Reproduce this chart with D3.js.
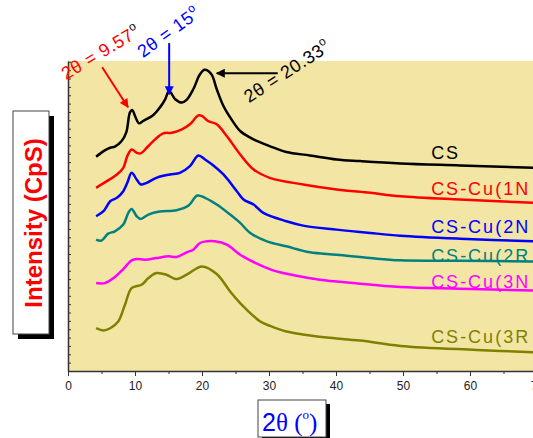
<!DOCTYPE html>
<html>
<head>
<meta charset="utf-8">
<script src="https://cdn.jsdelivr.net/npm/d3@7"></script>
<style>
  body { margin: 0; background: #fff; }
  svg { display: block; font-family: "Liberation Sans", Arial, sans-serif; }
</style>
</head>
<body>
<svg id="chart" width="533" height="438"></svg>
<script>
// XRD patterns, [2theta, intensity]
var cs = [[4.2,2564],[5.3,2632],[6.3,2672],[7.0,2684],[8.0,2752],[8.7,2856],[9.25,3096],[9.6,3124],[10.0,3052],[10.6,2964],[11.2,2992],[12.7,3060],[13.7,3152],[14.5,3252],[15.1,3352],[16.0,3252],[17.0,3212],[17.7,3244],[18.7,3372],[19.7,3552],[20.4,3604],[21.4,3552],[22.2,3372],[23.2,3172],[24.4,3012],[25.7,2872],[27.2,2792],[28.7,2736],[30.1,2692],[32.6,2620],[36.1,2580],[40.1,2532],[43.6,2512],[49.6,2484],[58.5,2460],[70,2430]];
var cu1N = [[4.2,2192],[5.8,2272],[7.3,2352],[8.25,2432],[8.85,2572],[9.5,2652],[10.25,2612],[10.85,2604],[11.75,2672],[13.0,2772],[14.2,2844],[15.5,2852],[17.0,2892],[18.2,2952],[19.45,3060],[20.0,3052],[20.9,2992],[22.2,2952],[23.7,2812],[25.7,2592],[27.7,2412],[30.1,2312],[35.1,2232],[40.1,2172],[45.1,2132],[49.6,2092],[58.5,2052],[70,2010]];
var cu2N = [[4.2,1852],[5.3,1912],[6.3,2032],[7.3,2072],[8.25,2152],[8.85,2252],[9.5,2372],[10.25,2292],[10.85,2232],[11.75,2252],[13.2,2312],[15.2,2352],[16.7,2372],[18.2,2452],[19.45,2580],[20.45,2532],[21.7,2460],[23.2,2352],[25.2,2152],[26.2,2052],[27.7,1992],[29.15,1892],[32.6,1792],[35.1,1740],[40.1,1692],[45.1,1652],[49.6,1620],[58.5,1584],[70,1550]];
var cu2R = [[4.2,1572],[5.0,1560],[6.0,1644],[7.0,1672],[8.25,1752],[9.0,1892],[9.5,1940],[10.25,1852],[10.85,1820],[12.0,1872],[13.7,1908],[16.2,1924],[18.0,1980],[19.3,2100],[20.45,2072],[22.2,1992],[24.2,1872],[25.7,1772],[27.2,1652],[29.7,1552],[32.6,1492],[36.1,1420],[40.1,1392],[45.1,1352],[49.6,1324],[58.5,1320],[70,1310]];
var cu3N = [[4.2,1052],[5.5,1052],[7.0,1124],[8.25,1220],[9.5,1324],[10.25,1340],[11.5,1332],[13.2,1352],[15.0,1372],[16.2,1364],[17.7,1420],[18.7,1452],[19.7,1532],[20.7,1552],[21.9,1552],[23.7,1512],[25.7,1392],[28.2,1284],[30.6,1204],[34.1,1140],[37.6,1092],[42.6,1052],[49.6,1004],[58.5,984],[70,962]];
var cu3R = [[4.2,512],[5.3,484],[6.3,512],[7.5,592],[8.5,792],[9.5,992],[11.0,1032],[12.0,1112],[13.2,1172],[14.7,1152],[16.1,1100],[17.7,1152],[20.0,1252],[22.2,1160],[24.2,952],[25.7,812],[26.7,732],[28.7,592],[30.15,540],[32.6,472],[35.6,432],[38.6,400],[43.6,364],[49.6,300],[61.0,252],[70,222]];

var seriesNames = ["CS", "CS-Cu(1N", "CS-Cu(2N", "CS-Cu(2R", "CS-Cu(3N", "CS-Cu(3R"];
var seriesColors = ["#000000", "#ff0000", "#0000ff", "#008080", "#ff00ff", "#808000"];
var labelY = [2532, 2112, 1656, 1308, 996, 336];   // label baselines, in intensity units
var xTicks = [0, 10, 20, 30, 40, 50, 60, 70];

// peak annotations
var peakText = ["2\u03b8 = 9.57", "2\u03b8 = 15", "2\u03b8 = 20.33"];
var peakColors = ["#ff0000", "#0000ff", "#000000"];
var degColors = ["#111111", "#0000ff", "#111111"];

var svg = d3.select("#chart");
var margin = {top: 61, left: 68, bottom: 67};
var height = 438 - margin.top - margin.bottom;

var x = d3.scaleLinear().domain([0, 70]).range([68, 537]);
var y = d3.scaleLinear().domain([0, 3710]).range([371, 61]);

// plot background
svg.append("rect")
  .attr("x", x(0)).attr("y", y(3710))
  .attr("width", 533 - x(0)).attr("height", height)
  .attr("fill", "#f3e6a4");

// y axis: plain line with inward ticks, no labels
var yAxis = svg.append("g").attr("transform", "translate(" + x(0) + ",0)")
  .call(d3.axisRight(y).tickValues(d3.range(0, 3711, 100)).tickSize(3).tickSizeOuter(0).tickFormat(""));
yAxis.select(".domain").attr("stroke", "#333").attr("stroke-width", 1.5);
yAxis.selectAll(".tick line").attr("stroke", "#333");

// x axis
var xAxis = svg.append("g").attr("transform", "translate(0," + y(0) + ")")
  .call(d3.axisBottom(x).tickValues(xTicks).tickSize(5).tickPadding(5).tickSizeOuter(0));
xAxis.select(".domain").attr("stroke", "#333").attr("stroke-width", 1.5);
xAxis.selectAll(".tick line").attr("stroke", "#333");
xAxis.selectAll("text").attr("font-size", 12).attr("fill", "#222")
  .attr("font-family", "Liberation Sans, Arial, sans-serif");
var minor = svg.append("g").attr("transform", "translate(0," + y(0) + ")")
  .call(d3.axisBottom(x).tickValues(d3.range(5, 70, 10)).tickSize(3).tickFormat("").tickSizeOuter(0));
minor.select(".domain").remove();
minor.selectAll(".tick line").attr("stroke", "#333");

// patterns
var line = d3.line()
  .x(function(d) { return x(d[0]); })
  .y(function(d) { return y(d[1]); })
  .curve(d3.curveCatmullRom.alpha(0.5));

var allSeries = [cs, cu1N, cu2N, cu2R, cu3N, cu3R];
svg.selectAll(".pattern")
  .data(allSeries)
  .enter().append("path")
  .attr("class", "pattern")
  .attr("d", line)
  .attr("fill", "none")
  .attr("stroke", function(d, i) { return seriesColors[i]; })
  .attr("stroke-width", 2.5)
  .attr("stroke-linejoin", "round");

// series labels on the right
svg.selectAll(".lbl")
  .data(seriesNames)
  .enter().append("text")
  .attr("class", "lbl")
  .attr("x", x(54.2))
  .attr("y", function(d, i) { return y(labelY[i]); })
  .attr("font-size", 18)
  .attr("letter-spacing", 2)
  .attr("fill", function(d, i) { return seriesColors[i]; })
  .text(function(d) { return d; });

// arrows
var defs = svg.append("defs");
peakColors.forEach(function(c, i) {
  defs.append("marker")
    .attr("id", "arr" + i)
    .attr("viewBox", "0 0 10 10")
    .attr("refX", 9).attr("refY", 5)
    .attr("markerWidth", 5).attr("markerHeight", 4.5)
    .attr("markerUnits", "strokeWidth")
    .attr("orient", "auto")
    .append("path").attr("d", "M0,0 L10,5 L0,10 z").attr("fill", c);
});
var arrowFrom = [[5.1, 3636], [15.1, 3924], [31.3, 3564]];
var arrowTo = [[8.96, 3156], [15.1, 3312], [22.2, 3564]];
arrowFrom.forEach(function(p, i) {
  svg.append("line")
    .attr("x1", x(p[0])).attr("y1", y(p[1]))
    .attr("x2", x(arrowTo[i][0])).attr("y2", y(arrowTo[i][1]))
    .attr("stroke", peakColors[i]).attr("stroke-width", 2)
    .attr("marker-end", "url(#arr" + i + ")");
});

// rotated peak labels
var textAt = [[-0.3, 3480], [11.2, 3744], [27.0, 3204]];
var textRot = [-31, -36, -33];
textAt.forEach(function(p, i) {
  var t = svg.append("text")
    .attr("transform", "translate(" + x(p[0]) + "," + y(p[1]) + ") rotate(" + textRot[i] + ")")
    .attr("font-size", 18)
    .attr("letter-spacing", 0.6)
    .attr("fill", peakColors[i]);
  t.append("tspan").text(peakText[i]);
  t.append("tspan").attr("dy", -8).attr("font-size", 12).attr("fill", degColors[i]).text("o");
});

// y axis title box
svg.append("rect").attr("x", 18).attr("y", 116).attr("width", 36).attr("height", 223).attr("fill", "#000");
svg.append("rect").attr("x", 13).attr("y", 111).attr("width", 36).attr("height", 223)
  .attr("fill", "#fff").attr("stroke", "#444").attr("stroke-width", 1);
svg.append("text")
  .attr("transform", "translate(42,223) rotate(-90)")
  .attr("text-anchor", "middle")
  .attr("font-size", 24).attr("font-weight", "bold")
  .attr("fill", "#ff0000")
  .text("Intensity (CpS)");

// x axis title box
svg.append("rect").attr("x", 262).attr("y", 404).attr("width", 68).attr("height", 37).attr("fill", "#000");
svg.append("rect").attr("x", 258).attr("y", 400).attr("width", 68).attr("height", 37)
  .attr("fill", "#fff").attr("stroke", "#444").attr("stroke-width", 1);
var xt = svg.append("text").attr("x", 262).attr("y", 431).attr("fill", "#0000ff");
xt.append("tspan").attr("font-size", 25).text("2");
xt.append("tspan").attr("font-size", 25).attr("font-family", "Liberation Serif, serif").text("\u03b8 (");
xt.append("tspan").attr("font-size", 13).attr("dy", -12).attr("font-family", "Liberation Serif, serif").text("o");
xt.append("tspan").attr("font-size", 25).attr("dy", 12).attr("font-family", "Liberation Serif, serif").text(")");
</script>
</body>
</html>
